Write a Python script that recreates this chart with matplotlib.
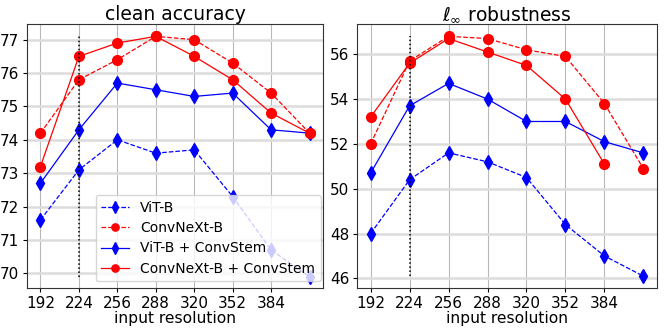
import matplotlib
matplotlib.use("Agg")
import matplotlib.pyplot as plt

res = [192, 224, 256, 288, 320, 352, 384, 416]
xticks = [192, 224, 256, 288, 320, 352, 384]

clean_vit = [71.6, 73.1, 74.0, 73.6, 73.7, 72.3, 70.7, 69.9]
clean_cnx = [74.2, 75.8, 76.4, 77.1, 77.0, 76.3, 75.4, 74.2]
clean_vit_cs = [72.7, 74.3, 75.7, 75.5, 75.3, 75.4, 74.3, 74.2]
clean_cnx_cs = [73.2, 76.5, 76.9, 77.1, 76.5, 75.8, 74.8, 74.2]

rob_vit = [48.0, 50.4, 51.6, 51.2, 50.5, 48.4, 47.0, 46.1]
rob_cnx = [52.0, 55.7, 56.8, 56.7, 56.2, 55.9, 53.8, 50.9]
rob_vit_cs = [50.7, 53.7, 54.7, 54.0, 53.0, 53.0, 52.1, 51.6]
rob_cnx_cs = [53.2, 55.6, 56.7, 56.1, 55.5, 54.0, 51.1]

labels = ["ViT-B", "ConvNeXt-B", "ViT-B + ConvStem", "ConvNeXt-B + ConvStem"]

fig = plt.figure(figsize=(6.64, 3.3), dpi=100)
ax1 = fig.add_axes([27 / 664, 42 / 330, 296 / 664, 264 / 330])
ax2 = fig.add_axes([357 / 664, 42 / 330, 300 / 664, 264 / 330])

def draw(ax, vit, cnx, vit_cs, cnx_cs, title):
    ax.plot(res[:len(vit)], vit, color="blue", ls="--", lw=0.9, marker="d", ms=7.5, label=labels[0])
    ax.plot(res[:len(cnx)], cnx, color="red", ls="--", lw=0.9, marker="o", ms=7, label=labels[1])
    ax.plot(res[:len(vit_cs)], vit_cs, color="blue", ls="-", lw=0.9, marker="d", ms=7.5, label=labels[2])
    ax.plot(res[:len(cnx_cs)], cnx_cs, color="red", ls="-", lw=0.9, marker="o", ms=7, label=labels[3])
    allv = vit + cnx + vit_cs + cnx_cs
    ax.vlines(224, min(allv), max(allv), colors="black", linestyles=":", lw=1.1, zorder=3)
    ax.set_xticks(xticks)
    ax.tick_params(labelsize=11, length=3, pad=2.5)
    ax.grid(axis="x", color="#b8b8b8", lw=0.8)
    ax.grid(axis="y", color="#dcdcdc", lw=1.8)
    ax.set_axisbelow(True)
    ax.set_xlabel("input resolution", fontsize=11.2, labelpad=0)
    ax.set_title(title, fontsize=13.5, pad=2.5)
    for s in ax.spines.values():
        s.set_color("#333333")

draw(ax1, clean_vit, clean_cnx, clean_vit_cs, clean_cnx_cs, "clean accuracy")
draw(ax2, rob_vit, rob_cnx, rob_vit_cs, rob_cnx_cs, r"$\ell_\infty$ robustness")
ax1.set_ylim(69.56, 77.47)
ax1.set_yticks([70, 71, 72, 73, 74, 75, 76, 77])
ax2.set_ylim(45.57, 57.35)
ax2.set_yticks([46, 48, 50, 52, 54, 56])
ax1.legend(loc="lower right", bbox_to_anchor=(0.992, 0.025), fontsize=10, framealpha=0.8,
           handlelength=2.0, borderaxespad=0.0, labelspacing=0.46, markerscale=0.75)

fig.savefig("out.png", dpi=100)
